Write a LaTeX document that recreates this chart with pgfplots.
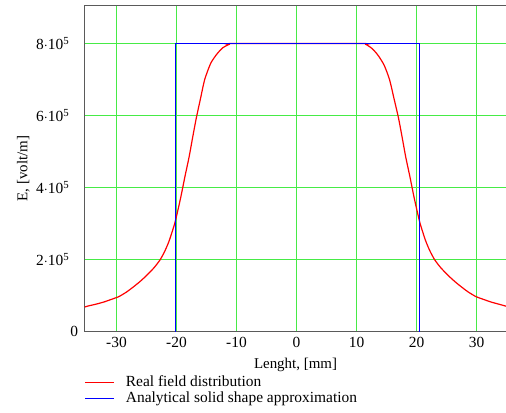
\documentclass[border=0pt]{standalone}
\usepackage{fontspec}
\setmainfont{Liberation Serif}
\usepackage{pgfplots}
\pgfplotsset{compat=1.18}
\definecolor{gridgreen}{RGB}{70,235,70}
\definecolor{axgray}{RGB}{90,90,90}
\begin{document}
\fontsize{15.5}{18}\selectfont
\begin{tikzpicture}[x=1bp,y=1bp]
\useasboundingbox (0,0) rectangle (506,412);
\begin{axis}[
  at={(84.5bp,80.5bp)}, anchor=south west,
  scale only axis, width=422bp, height=326bp,
  xmin=-35.3333, xmax=35, ymin=0, ymax=905555.6,
  xtick={-30,-20,...,30},
  ytick={0,2e5,4e5,6e5,8e5},
  yticklabels={{0\hspace*{-9bp}},{2$\cdot$10\textsuperscript{5}},{4$\cdot$10\textsuperscript{5}},{6$\cdot$10\textsuperscript{5}},{8$\cdot$10\textsuperscript{5}}},
  scaled y ticks=false,
  /pgf/number format/assume math mode=true,
  major tick length=0pt,
  grid=major,
  major grid style={gridgreen, line width=1.2bp},
  axis line style={axgray, line width=1.2bp},
  ticklabel style={font=\fontsize{15.5}{18}\selectfont},
  xticklabel style={yshift=0bp},
  yticklabel style={xshift=-10bp},
  label style={font=\fontsize{15}{18}\selectfont},
  xlabel={Lenght, [mm]},
  ylabel={E, [volt/m]},
  xlabel style={yshift=0bp},
  ylabel style={yshift=-4bp},
  legend style={at={(0,-0.13)}, anchor=north west, draw=none, fill=none,
    font=\fontsize{15.5}{17}\selectfont, row sep=0bp, inner sep=0bp,
    /tikz/every odd column/.append style={column sep=5bp}},
  legend cell align=left,
  legend image code/.code={\draw[#1] (0bp,0bp) -- (29bp,0bp);},
  legend style={nodes={inner xsep=6bp, inner ysep=1.6bp}},
]
\addplot[red, line width=1.2bp, smooth, tension=0.4] coordinates {
(-35.3,0.68e5) (-34.7,0.71e5) (-33.4,0.76e5) (-32.1,0.82e5) (-30.9,0.89e5)
(-29.6,0.97e5) (-28.3,1.1e5) (-27.1,1.25e5) (-26.0,1.4e5) (-24.9,1.57e5)
(-23.7,1.78e5) (-22.7,2.0e5) (-21.9,2.25e5) (-21.2,2.53e5) (-20.3,3.0e5)
(-19.7,3.42e5) (-19.2,3.8e5) (-18.6,4.3e5) (-17.9,4.85e5) (-17.3,5.4e5)
(-16.7,5.93e5) (-16.0,6.47e5) (-15.3,7.0e5) (-14.3,7.45e5) (-13.3,7.7e5)
(-12.3,7.88e5) (-11.3,7.97e5) (-10.4,8.0e5)
(10.7,8.0e5) (11.6,7.97e5) (12.6,7.86e5) (13.6,7.67e5) (14.6,7.4e5)
(15.5,7.0e5) (16.25,6.47e5) (17.0,5.93e5) (17.6,5.4e5) (18.2,4.85e5)
(18.9,4.3e5) (19.5,3.8e5) (20.0,3.42e5) (20.6,3.0e5) (21.5,2.53e5)
(22.2,2.25e5) (23.0,2.0e5) (24.0,1.78e5) (25.2,1.57e5) (26.3,1.4e5)
(27.4,1.25e5) (28.6,1.1e5) (29.9,0.97e5) (31.2,0.89e5) (32.4,0.82e5)
(33.7,0.76e5) (35.0,0.70e5)
};
\addlegendentry{Real field distribution}
\addplot[blue, line width=1.2bp] coordinates {
(-20.1667,0) (-20.1667,8e5) (20.5,8e5) (20.5,0)
};
\addlegendentry{Analytical solid shape approximation}
\end{axis}
\end{tikzpicture}
\end{document}
